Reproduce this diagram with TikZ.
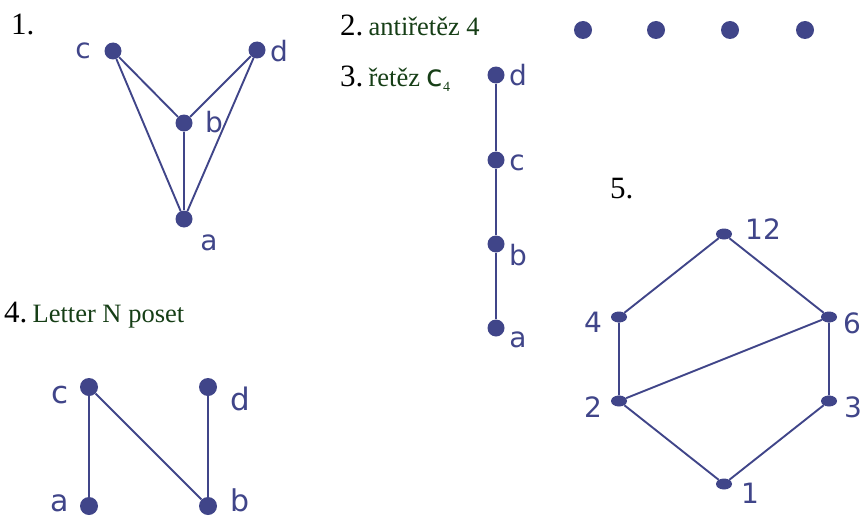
\documentclass[tikz,border=0pt]{standalone}
\usepackage{fontspec}
\setmainfont{Liberation Serif}
\newfontfamily\lblfont{DejaVu Sans}
\usetikzlibrary{shapes.geometric}
\definecolor{posetblue}{RGB}{64,69,137}
\definecolor{titlegreen}{RGB}{22,62,22}
\newcommand{\fs}[1]{\fontsize{#1}{#1}\selectfont}
\tikzset{
  dot/.style={circle,fill=posetblue,inner sep=0pt,minimum size=17pt},
  edot/.style={ellipse,fill=posetblue,inner sep=0pt,minimum width=16pt,minimum height=11pt},
  edge/.style={draw=posetblue,line width=1.9pt},
  lbl/.style={text=posetblue,inner sep=0pt,anchor=base,font=\lblfont\fs{#1}},
  heading/.style={inner sep=0pt,anchor=base west,font=\fs{31}}
}
\begin{document}
\begin{tikzpicture}[x=1pt,y=-1pt]
\useasboundingbox (0,0) rectangle (864,519);
% headings
\node[heading] (h1) at (11,35) {1.};
\node[heading] (h2) at (340,36) {2.\,{\color{titlegreen}\fs{26.5}antiřetěz 4}};
\node[heading] (h3) at (340,86) {3.\,{\color{titlegreen}\fs{26.5}řetěz {\lblfont\fs{30}c}\raisebox{-5pt}{\fs{14}4}}};
\node[heading] (h4) at (4,322) {4.\,{\color{titlegreen}\fs{26.5}Letter N poset}};
\node[heading] (h5) at (610,198) {5.};

% diagram 1
\node[dot] (a1) at (184,219) {};
\node[dot] (b1) at (184,123) {};
\node[dot] (c1) at (113,51) {};
\node[dot] (d1) at (257,50) {};
\draw[edge] (c1) -- (b1) -- (d1);
\draw[edge] (c1) -- (a1) -- (d1);
\draw[edge] (b1) -- (a1);
\node[lbl=28] (la1) at (209,250) {a};
\node[lbl=28] (lb1) at (214,132) {b};
\node[lbl=28] (lc1) at (83,59) {c};
\node[lbl=28] (ld1) at (279,61) {d};

% diagram 2
\node[dot,minimum size=18pt] (p1) at (583,30) {};
\node[dot,minimum size=18pt] (p2) at (656,30) {};
\node[dot,minimum size=18pt] (p3) at (730,30) {};
\node[dot,minimum size=18pt] (p4) at (805,30) {};

% diagram 3
\node[dot] (a3) at (496,328) {};
\node[dot] (b3) at (496,244) {};
\node[dot] (c3) at (496,160) {};
\node[dot] (d3) at (496,75) {};
\draw[edge] (a3) -- (b3) -- (c3) -- (d3);
\node[lbl=28] (la3) at (518,347) {a};
\node[lbl=28] (lb3) at (518,265) {b};
\node[lbl=28] (lc3) at (517,170) {c};
\node[lbl=28] (ld3) at (518,85) {d};

% diagram 4
\node[dot,minimum size=18pt] (a4) at (89,506) {};
\node[dot,minimum size=18pt] (b4) at (208,506) {};
\node[dot,minimum size=18pt] (c4) at (89,387) {};
\node[dot,minimum size=18pt] (d4) at (208,387) {};
\draw[edge] (a4) -- (c4) -- (b4) -- (d4);
\node[lbl=30] (la4) at (60,511) {a};
\node[lbl=30] (lb4) at (240,511) {b};
\node[lbl=31] (lc4) at (60,403) {c};
\node[lbl=31] (ld4) at (240,410) {d};

% diagram 5
\node[edot] (n1) at (724,484) {};
\node[edot] (n2) at (619,401) {};
\node[edot] (n3) at (829,401) {};
\node[edot] (n4) at (619,317) {};
\node[edot] (n6) at (829,317) {};
\node[edot] (n12) at (724,234) {};
\draw[edge] (n1) -- (n2) -- (n4) -- (n12) -- (n6) -- (n3) -- (n1);
\draw[edge] (n2) -- (n6);
\node[lbl=28] (l1) at (750,503) {1};
\node[lbl=28] (l2) at (593,417) {2};
\node[lbl=28] (l3) at (853,417) {3};
\node[lbl=28] (l4) at (593,332) {4};
\node[lbl=28] (l6) at (852,333) {6};
\node[lbl=28] (l12) at (763,239) {12};
\end{tikzpicture}
\end{document}
